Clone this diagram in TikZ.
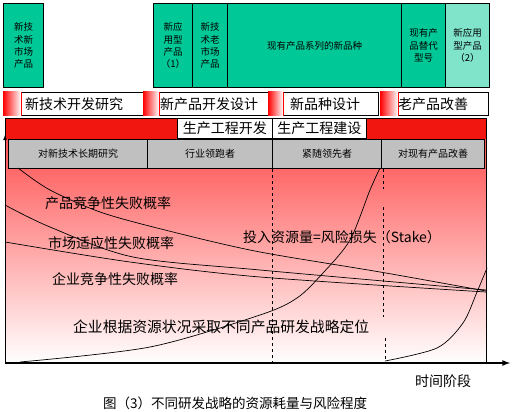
\documentclass[tikz,border=0pt]{standalone}
\usepackage{fontspec}
\setmainfont{Noto Sans CJK SC}
\definecolor{prodteal}{RGB}{0,200,150}
\definecolor{rolegray}{RGB}{192,192,192}
\definecolor{bandred}{RGB}{242,22,16}

\begin{document}
\begin{tikzpicture}[x=1pt,y=-1pt,
  prodbox/.style={draw, line width=1.2pt, fill=prodteal, anchor=north west,
    minimum height=84pt, inner sep=0pt, align=center,
    font=\fontsize{9.5}{12.3}\selectfont},
  stagebox/.style={draw, line width=0.8pt, fill=white, anchor=north west,
    minimum height=23pt, inner sep=0pt},
  stagefade/.style={left color=red, right color=white},
  stagetext/.style={anchor=west, inner sep=0pt, font=\fontsize{14}{16}\selectfont},
  phasebox/.style={draw, line width=0.8pt, fill=white, anchor=north west,
    minimum height=20pt, inner sep=0pt, font=\fontsize{14}{16}\selectfont},
  rolebox/.style={draw, line width=1.2pt, fill=rolegray, anchor=north west,
    minimum height=29pt, inner sep=0pt, font=\fontsize{10}{12}\selectfont},
  curvetext/.style={anchor=west, inner sep=0pt, font=\fontsize{14}{16}\selectfont}]
\useasboundingbox (0,0) rectangle (512,412);

% product types
\node[prodbox, minimum width=40pt] (newtech) at (3,3) {新技\\术新\\市场\\产品};
\node[prodbox, minimum width=39pt] (newapp) at (153,3) {新应\\用型\\产品\\（1）};
\node[prodbox, minimum width=35pt] (oldmarket) at (192,3) {新技\\术老\\市场\\产品};
\node[prodbox, minimum width=174pt] (newvariant) at (227,3) {现有产品系列的新品种};
\node[prodbox, minimum width=44pt] (substitute) at (401,3) {现有产\\品替代\\型号};
\node[prodbox, minimum width=44pt, fill=prodteal!50!white] (newapptwo) at (445,3) {新应用\\型产品\\（2）};

% development stages
\node[stagebox, minimum width=140pt] (techres) at (3,92) {};
\shade[stagefade] (techres.north west) rectangle ([xshift=18pt]techres.south west);
\draw[red, line width=1pt] ([xshift=18pt]techres.north west) -- ([xshift=18pt]techres.south west);
\node[stagetext] (techrestxt) at ([xshift=22pt]techres.west) {新技术开发研究};

\node[stagebox, minimum width=128pt] (proddesign) at (143,92) {};
\shade[stagefade] (proddesign.north west) rectangle ([xshift=16pt]proddesign.south west);
\draw[red, line width=1pt] ([xshift=16pt]proddesign.north west) -- ([xshift=16pt]proddesign.south west);
\node[stagetext] (proddesigntxt) at ([xshift=17pt]proddesign.west) {新产品开发设计};

\node[stagebox, minimum width=110pt] (variantdesign) at (268,92) {};
\shade[stagefade] (variantdesign.north west) rectangle ([xshift=15pt]variantdesign.south west);
\draw[red, line width=1pt] ([xshift=15pt]variantdesign.north west) -- ([xshift=15pt]variantdesign.south west);
\node[stagetext] (variantdesigntxt) at ([xshift=22pt]variantdesign.west) {新品种设计};

\node[stagebox, minimum width=108pt] (oldimprove) at (380,92) {};
\shade[stagefade] (oldimprove.north west) rectangle ([xshift=18pt]oldimprove.south west);
\draw[red, line width=1pt] ([xshift=18pt]oldimprove.north west) -- ([xshift=18pt]oldimprove.south west);
\node[stagetext] (oldimprovetxt) at ([xshift=18pt]oldimprove.west) {老产品改善};

% risk panel
\fill[bandred] (5,118) rectangle (486,139);
\shade[top color=red!68, bottom color=white] (5,139) rectangle (486,363);
\draw[line width=0.8pt] (5,118) rectangle (486,363);

\node[phasebox, minimum width=95pt] (devphase) at (177,118) {生产工程开发};
\node[phasebox, minimum width=94pt] (buildphase) at (272,118) {生产工程建设};

\node[rolebox, minimum width=139pt] (longterm) at (8,139) {对新技术长期研究};
\node[rolebox, minimum width=125pt] (leader) at (147,139) {行业领跑者};
\node[rolebox, minimum width=109pt] (follower) at (272,139) {紧随领先者};
\node[rolebox, minimum width=103pt] (improver) at (381,139) {对现有产品改善};

% axes
\coordinate (origin) at (5,363);
\coordinate (timeend) at (510,363);
\coordinate (riskend) at (5,135);

\draw[dashed, line width=0.7pt] (follower.south west) -- (follower.south west |- origin);
\draw[dashed, line width=0.7pt] ([xshift=2pt]improver.south west) -- ++(0,20);
\draw[dashed, line width=0.7pt] (383,207) -- (383,317);
\draw[dashed, line width=0.7pt] (385,338) -- (385,363);

% failure probabilities
\draw[line width=0.7pt] plot[smooth] coordinates {(18,168) (50,190) (103,213) (177,233) (260,252) (380,272) (486,291)};
\draw[line width=0.7pt] plot[smooth] coordinates {(5,205) (50,227) (133,257) (260,270) (486,290)};
\draw[line width=0.7pt] plot[smooth] coordinates {(5,242) (130,262) (260,277) (486,292)};

% resources put in
\draw[line width=0.7pt] plot[smooth] coordinates {(20,362) (150,347) (260,315) (297,298) (323,273) (350,240) (370,190) (380,168)};
\draw[line width=0.7pt] plot[smooth] coordinates {(385,361) (437,348) (463,323) (477,292) (487,268)};

\node[curvetext] (prodfail) at (45,203) {产品竞争性失败概率};
\node[curvetext] (marketfail) at (48,243) {市场适应性失败概率};
\node[curvetext] (firmfail) at (52,279) {企业竞争性失败概率};
\node[curvetext] (stake) at (243,237) {投入资源量=风险损失（Stake）};
\node[curvetext, font=\fontsize{14.8}{16}\selectfont] (strategy) at (73,327) {企业根据资源状况采取不同产品研发战略定位};

\draw[line width=1.6pt, -latex] (origin) -- (timeend);
\draw[line width=0.8pt, -latex] (origin) -- (riskend);

\node[curvetext] (timelabel) at (415,381) {时间阶段};
\node[curvetext, font=\fontsize{13.5}{16}\selectfont] (caption) at (103,403) {图（3）不同研发战略的资源耗量与风险程度};
\end{tikzpicture}
\end{document}
